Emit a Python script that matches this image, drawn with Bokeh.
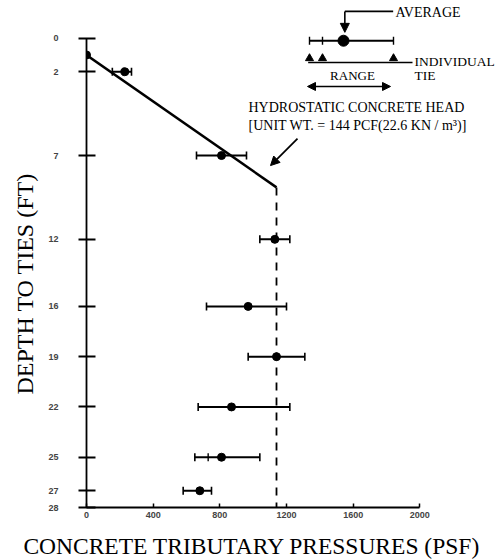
import numpy as np
from bokeh.plotting import figure
from bokeh.models import Range1d, FixedTicker, Arrow, NormalHead, Title
from bokeh.core.properties import value
from bokeh.embed import file_html
from bokeh.resources import INLINE

# ---- data ----
tie_depths = [2, 7, 12, 16, 19, 22, 25, 27]
avg_psf = [230, 810, 1130, 970, 1140, 870, 810, 680]
min_psf = [155, 660, 1040, 720, 970, 670, 650, 580]
max_psf = [270, 960, 1220, 1200, 1310, 1220, 1040, 750]
indiv_depths = [25]
indiv_psf = [730]
start_depth = [1]
start_psf = [0]
head_depth = [1, 8.9]
head_psf = [0, 1140]
dash_depth = [8.9, 28]
dash_psf = [1140, 1140]
depth_ticks = [0, 2, 7, 12, 16, 19, 22, 25, 27, 28]
psf_ticks = [0, 400, 800, 1200, 1600, 2000]

# key (explanatory sketch, top right)
key_depth = [0.15]
key_ties = [1338, 1416, 1842]
key_avg = [1542]

SERIF = "Liberation Serif"
TICKF = "Liberation Sans"

p = figure(frame_width=414, frame_height=507,
           x_range=Range1d(0, 2484), y_range=Range1d(28, -2.25),
           output_backend="svg", toolbar_location=None,
           min_border_left=86, min_border_right=4, min_border_top=0,
           min_border_bottom=0)
p.background_fill_color = "white"
p.border_fill_color = "white"
p.outline_line_color = None
p.xgrid.visible = False
p.ygrid.visible = False

# x axis
xa = p.xaxis[0]
xa.ticker = FixedTicker(ticks=psf_ticks)
xa.bounds = (0, 2000)
xa.minor_tick_line_color = None
xa.major_tick_in = 4
xa.major_tick_out = 0
xa.axis_line_width = 1.8
xa.major_tick_line_width = 1.5
xa.major_label_text_font = TICKF
xa.major_label_text_font_style = "bold"
xa.major_label_text_font_size = "9px"
xa.major_label_standoff = 4
xa.axis_label = " "
xa.axis_label_text_font_size = "1px"
xa.axis_label_standoff = 8

# y axis (x = 0 is the frame's left edge)
ya = p.yaxis[0]
ya.ticker = FixedTicker(ticks=depth_ticks)
ya.bounds = (0, 28)
ya.minor_tick_line_color = None
ya.major_tick_in = 9
ya.major_tick_out = 8
ya.axis_line_width = 1.8
ya.major_tick_line_width = 1.8
ya.major_label_text_font = TICKF
ya.major_label_text_font_style = "bold"
ya.major_label_text_font_size = "9px"
ya.major_label_standoff = 20

p.add_layout(Title(text="DEPTH TO TIES (FT)", align="left", offset=113,
                   vertical_align="bottom", standoff=16,
                   text_font=SERIF, text_font_style="normal",
                   text_font_size="24px", text_color="black"), "left")
p.add_layout(Title(text="CONCRETE TRIBUTARY PRESSURES (PSF)", align="right",
                   offset=20, vertical_align="top", standoff=0,
                   text_font=SERIF, text_font_style="normal",
                   text_font_size="23.5px", text_color="black"), "below")

# hydrostatic head
p.line(head_psf, head_depth, line_color="black", line_width=2.5)
p.line(dash_psf, dash_depth, line_color="black", line_width=1.8, line_dash="8 7")

# error bars
p.segment(x0=min_psf, y0=tie_depths, x1=max_psf, y1=tie_depths,
          line_color="black", line_width=2)
p.scatter(min_psf + max_psf, tie_depths + tie_depths, marker="dash",
          angle=np.pi / 2, size=8, line_color="black", line_width=1.6)
p.scatter(indiv_psf, indiv_depths, marker="dash", angle=np.pi / 2, size=8,
          line_color="black", line_width=1.4)
p.scatter(avg_psf, tie_depths, marker="circle", size=8, fill_color="black",
          line_color="black")
p.scatter(start_psf, start_depth, marker="circle", size=8, fill_color="black",
          line_color="black")

# ---- key ----
p.segment(x0=[key_ties[0]], y0=key_depth, x1=[key_ties[-1]], y1=key_depth,
          line_color="black", line_width=2)
p.scatter(key_ties, key_depth * 3, marker="dash", angle=np.pi / 2, size=8,
          line_color="black", line_width=1.4)
p.scatter(key_avg, key_depth, marker="circle", size=11, fill_color="black",
          line_color="black")
# average pointer
p.line([1550, 1840], [-1.6, -1.6], line_color="black", line_width=1.6)
p.add_layout(Arrow(x_start=1550, y_start=-1.6, x_end=1550, y_end=-0.35,
                   line_width=1.6,
                   end=NormalHead(size=9, fill_color="black", line_color="black")))
p.text([1854], [-1.53], text=["AVERAGE"], text_font=value(SERIF),
       text_font_size="14px", text_baseline="middle", text_align="left")
# individual tie pointers
p.scatter(key_ties, [1.2, 1.2, 1.2], marker="triangle", size=8,
          fill_color="black", line_color="black")
p.line([1330, 1956], [1.45, 1.45], line_color="black", line_width=1.5)
p.text([1968, 1968], [1.4, 2.23], text=["INDIVIDUAL", "TIE"],
       text_font=value(SERIF), text_font_size="13.5px", text_baseline="middle",
       text_align="left")
p.text([1596], [2.23], text=["RANGE"], text_font=value(SERIF),
       text_font_size="13px", text_baseline="middle", text_align="center")
p.add_layout(Arrow(x_start=1326, y_start=2.88, x_end=1824, y_end=2.88,
                   line_width=1.6,
                   start=NormalHead(size=8, fill_color="black", line_color="black"),
                   end=NormalHead(size=8, fill_color="black", line_color="black")))

# hydrostatic annotation
p.text([972, 972], [4.14, 5.21],
       text=["HYDROSTATIC CONCRETE HEAD", "[UNIT WT. = 144 PCF(22.6 KN / m³)]"],
       text_font=value(SERIF), text_font_size="14px", text_baseline="middle",
       text_align="left")
p.add_layout(Arrow(x_start=1266, y_start=5.99, x_end=1104, y_end=7.6,
                   line_width=1.8,
                   end=NormalHead(size=9, fill_color="black", line_color="black")))

open("out.html", "w").write(file_html(p, INLINE))
